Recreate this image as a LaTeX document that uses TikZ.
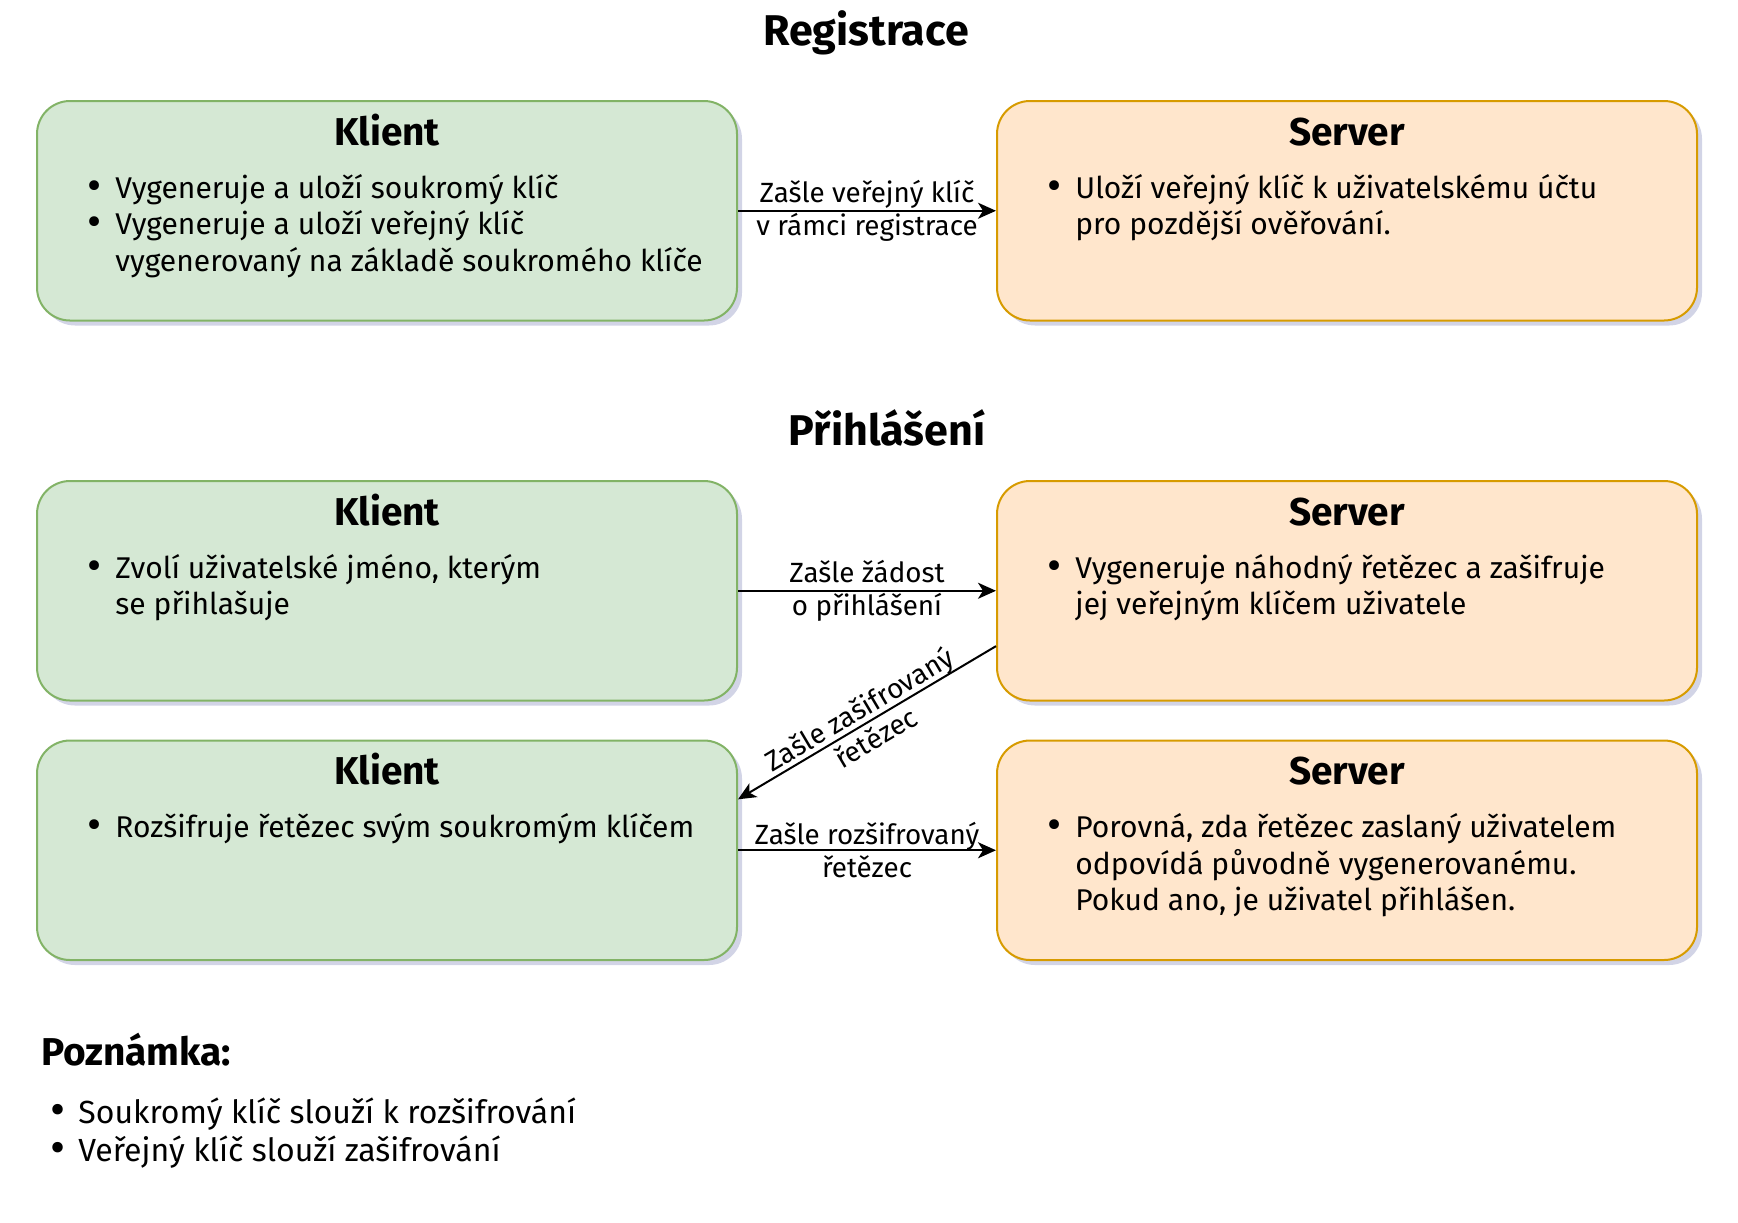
\documentclass[tikz,border=0pt]{standalone}
\usepackage{fontspec}
\setmainfont{Fira Sans}
\usetikzlibrary{arrows.meta,calc,shadows}
\definecolor{klientfill}{HTML}{D5E8D4}
\definecolor{klientline}{HTML}{82B366}
\definecolor{serverfill}{HTML}{FFE6CC}
\definecolor{serverline}{HTML}{D79B00}
\definecolor{shadowc}{HTML}{B4B8D6}
\newcommand{\bul}{\rule{0pt}{13pt}\makebox[14pt][l]{\raisebox{-0.12ex}{\scalebox{1.45}{\textbullet}}}}
\newcommand{\ind}{\hspace*{14pt}}
\begin{document}
\begin{tikzpicture}[x=0.5pt,y=-0.5pt,
  box/.style={rounded corners=16.5pt,line width=1pt,minimum width=350pt,minimum height=109.75pt,
    drop shadow={shadow xshift=2.5pt,shadow yshift=-2.5pt,fill=shadowc,opacity=0.6}},
  klientbox/.style={box,draw=klientline,fill=klientfill},
  serverbox/.style={box,draw=serverline,fill=serverfill},
  head/.style={anchor=base,font=\fontsize{19.4}{23}\selectfont\bfseries},
  title/.style={head,font=\fontsize{21.5}{26}\selectfont\bfseries},
  items/.style={anchor=north west,align=left,inner sep=0pt,font=\fontsize{15}{18.25}\selectfont},
  lbl/.style={align=center,inner sep=0pt,font=\fontsize{13.9}{16.5}\selectfont},
  arr/.style={-{Stealth[length=9pt,width=8pt,inset=2.5pt]},line width=1pt}]
  \useasboundingbox (0,0) rectangle (1738,1222);
  % titles
  \node[title] (regtitle) at (866,45) {Registrace};
  \node[title] (logtitle) at (887,445.5) {Přihlášení};
  % registration
  \node[klientbox] (k1) at (387,210.75) {};
  \node[serverbox] (s1) at (1347,210.75) {};
  \node[head] (k1head) at (387,145) {Klient};
  \node[head] (s1head) at (1347,145) {Server};
  \node[items] (k1list) at (87,172) {\bul Vygeneruje a uloží soukromý klíč\\
    \bul Vygeneruje a uloží veřejný klíč\\ \ind vygenerovaný na základě soukromého klíče};
  \node[items] (s1list) at (1047,172) {\bul Uloží veřejný klíč k uživatelskému účtu\\
    \ind pro pozdější ověřování.};
  \draw[arr] (k1) -- node[midway,lbl]{Zašle veřejný klíč\\v rámci registrace} (s1);
  % login
  \node[klientbox] (k2) at (387,590.75) {};
  \node[serverbox] (s2) at (1347,590.75) {};
  \node[klientbox] (k3) at (387,850.25) {};
  \node[serverbox] (s3) at (1347,850.25) {};
  \node[head] (k2head) at (387,525) {Klient};
  \node[head] (s2head) at (1347,525) {Server};
  \node[head] (k3head) at (387,784.5) {Klient};
  \node[head] (s3head) at (1347,784.5) {Server};
  \node[items] (k2list) at (87,552) {\bul Zvolí uživatelské jméno, kterým\\ \ind se přihlašuje};
  \node[items] (s2list) at (1047,552) {\bul Vygeneruje náhodný řetězec a zašifruje\\
    \ind jej veřejným klíčem uživatele};
  \node[items] (k3list) at (87,811.5) {\bul Rozšifruje řetězec svým soukromým klíčem};
  \node[items] (s3list) at (1047,811.5) {\bul Porovná, zda řetězec zaslaný uživatelem\\
    \ind odpovídá původně vygenerovanému.\\ \ind Pokud ano, je uživatel přihlášen.};
  \draw[arr] (k2) -- node[midway,lbl]{Zašle žádost\\o přihlášení} (s2);
  \draw[arr] ($(s2.south west)!0.25!(s2.north west)$) --
    node[midway,sloped,lbl]{Zašle zašifrovaný\\řetězec} ($(k3.north east)!0.27!(k3.south east)$);
  \draw[arr] (k3) -- node[midway,lbl]{Zašle rozšifrovaný\\řetězec} (s3);
  % note
  \node[head,anchor=base west] (notehead) at (34,1065) {Poznámka:};
  \node[items,font=\fontsize{16}{19}\selectfont] (notelist) at (50,1097) {\bul Soukromý klíč slouží k rozšifrování\\
    \bul Veřejný klíč slouží zašifrování};
\end{tikzpicture}
\end{document}
